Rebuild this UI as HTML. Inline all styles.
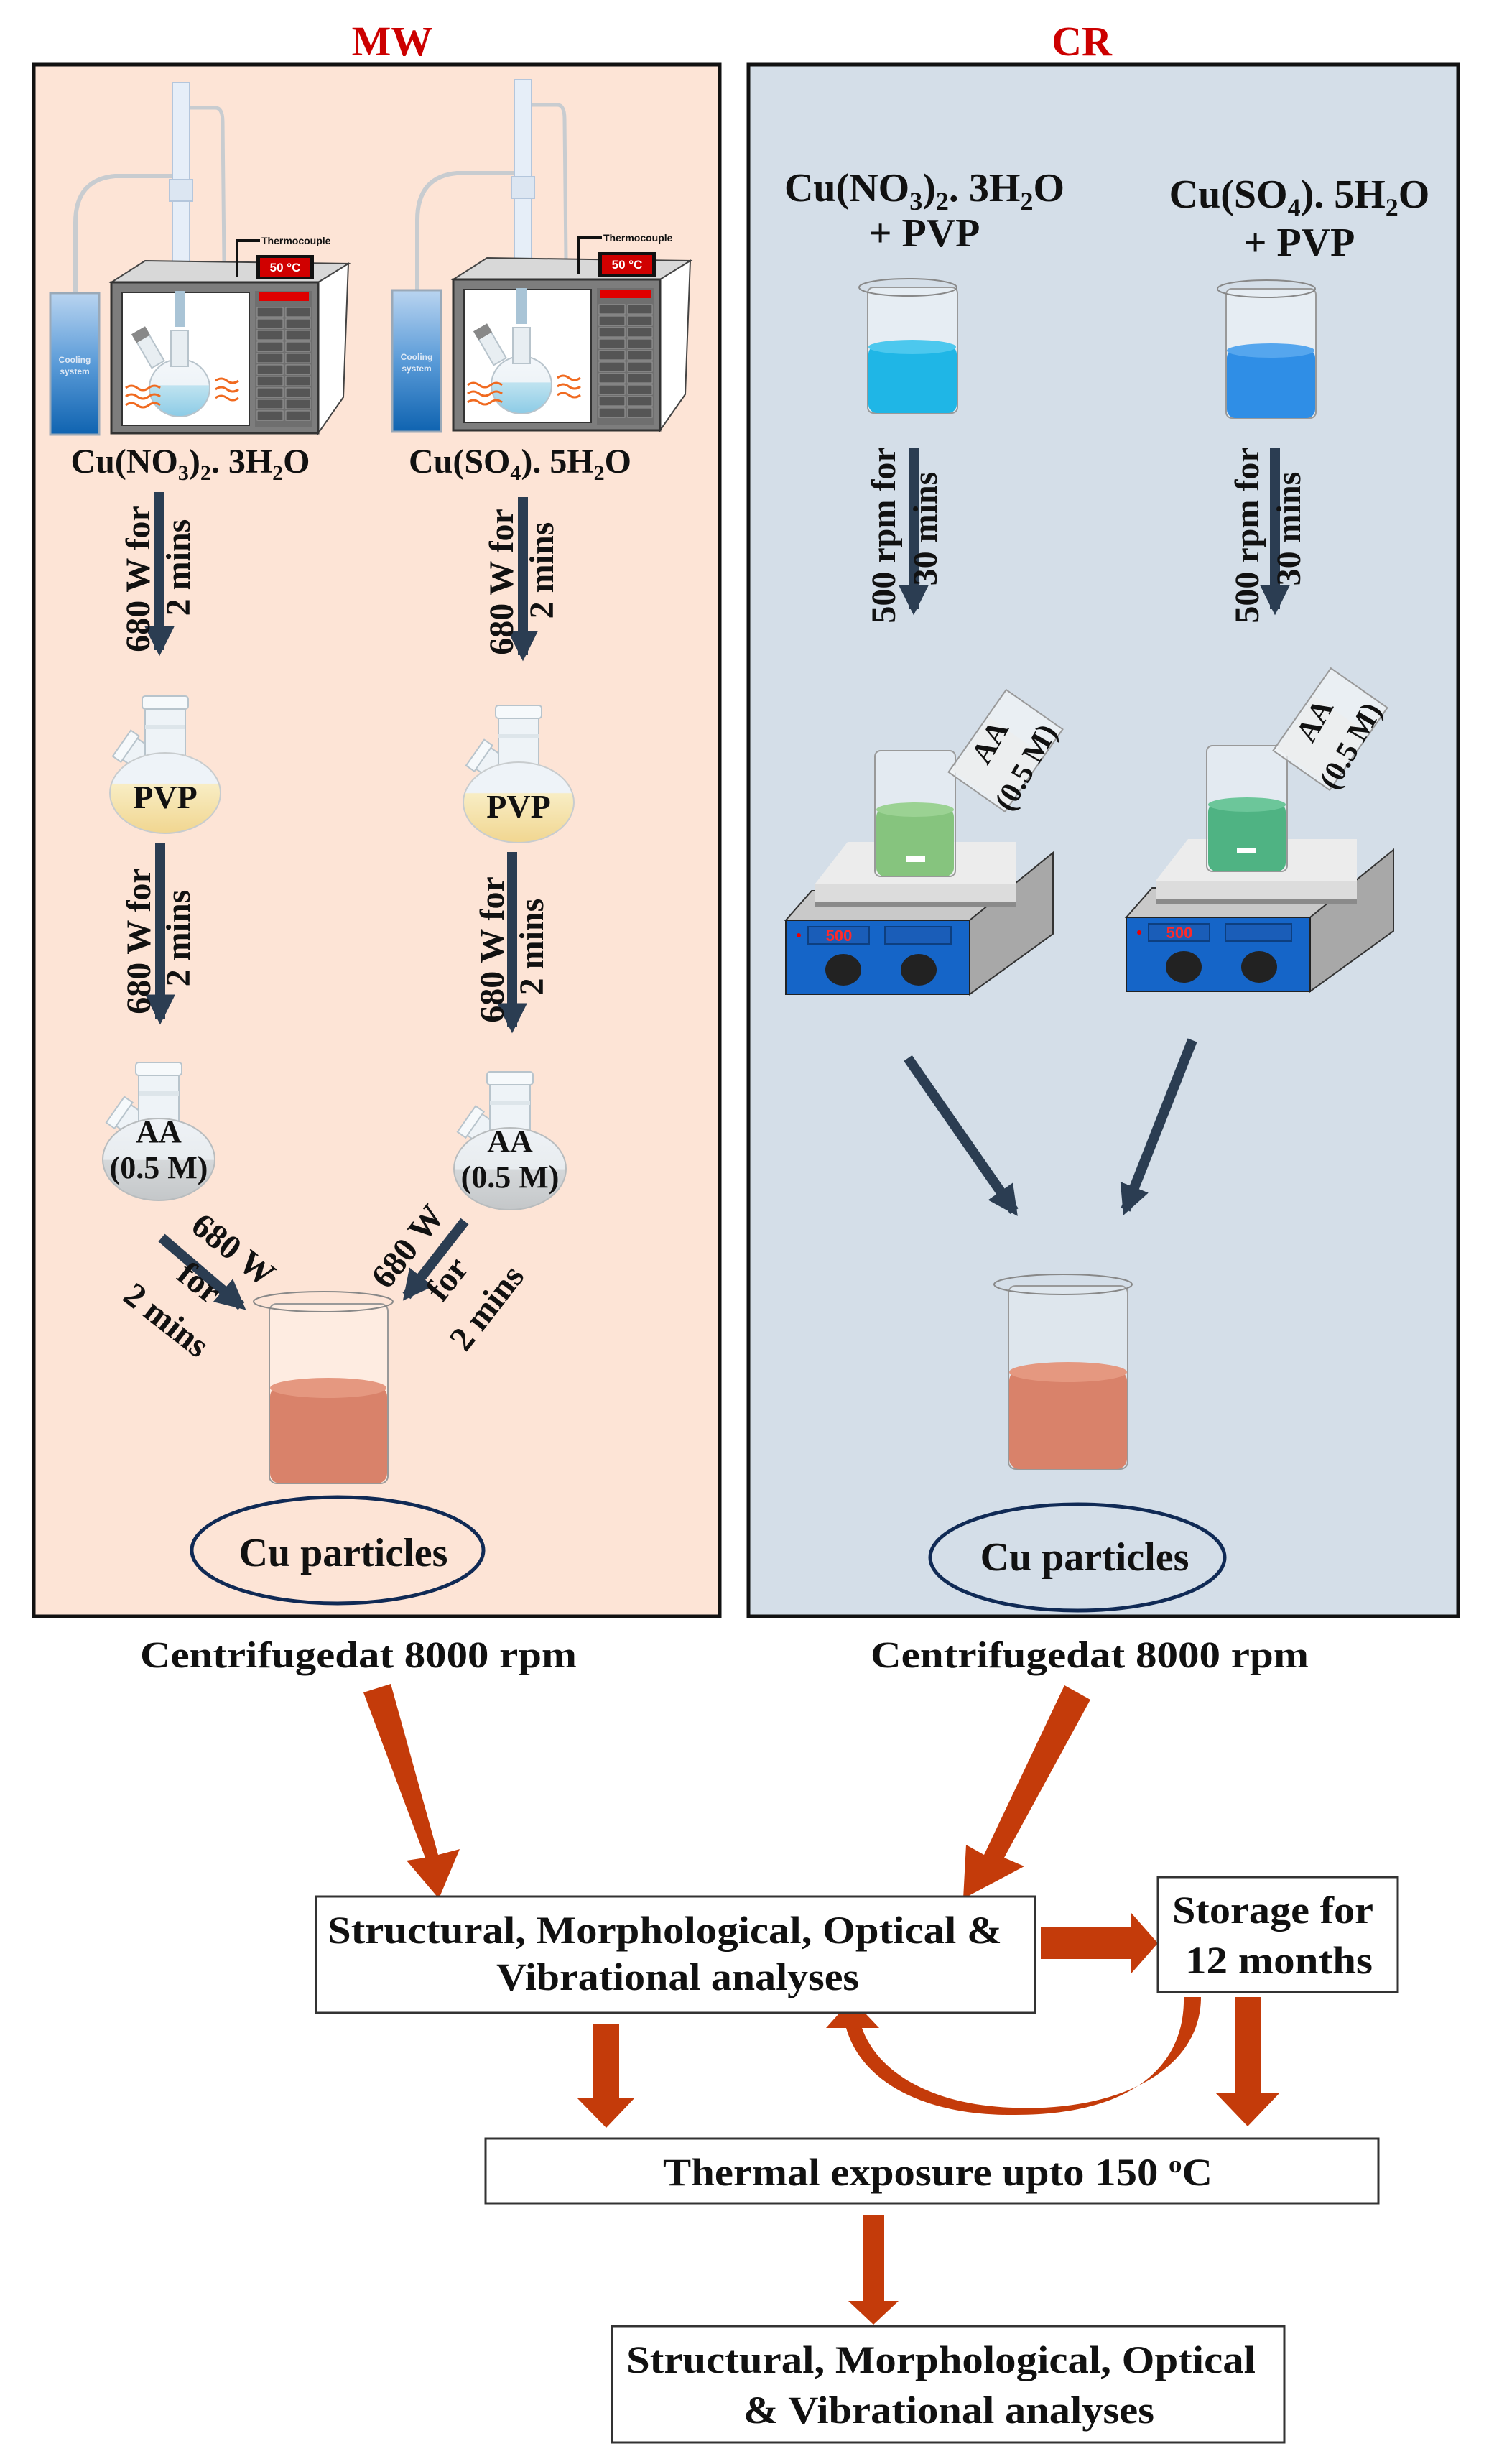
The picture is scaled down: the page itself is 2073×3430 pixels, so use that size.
<!DOCTYPE html>
<html><head><meta charset="utf-8"><style>
html,body{margin:0;padding:0;background:#fff;}
svg{display:block;}
text{font-family:"Liberation Serif",serif;font-weight:bold;fill:#111;}
</style></head><body>
<svg width="2073" height="3430" viewBox="0 0 2073 3430" xmlns="http://www.w3.org/2000/svg">
<defs>
<linearGradient id="cool" x1="0" y1="0" x2="0" y2="1"><stop offset="0" stop-color="#b9d4f0"/><stop offset="0.5" stop-color="#5a9bd8"/><stop offset="1" stop-color="#0f63b0"/></linearGradient>
<linearGradient id="pvp" x1="0" y1="0" x2="0" y2="1"><stop offset="0" stop-color="#eef3f8"/><stop offset="0.38" stop-color="#eef3f8"/><stop offset="0.39" stop-color="#f8edc4"/><stop offset="1" stop-color="#f1d690"/></linearGradient>
<linearGradient id="aa" x1="0" y1="0" x2="0" y2="1"><stop offset="0" stop-color="#eef2f6"/><stop offset="0.5" stop-color="#e8ecef"/><stop offset="0.51" stop-color="#d5d8da"/><stop offset="1" stop-color="#c4c7c9"/></linearGradient>
<linearGradient id="mwf" x1="0" y1="0" x2="0" y2="1"><stop offset="0" stop-color="#f4f7fa"/><stop offset="0.45" stop-color="#eef4f8"/><stop offset="0.46" stop-color="#bfe3f0"/><stop offset="1" stop-color="#8ccbe6"/></linearGradient>
<marker id="dh" viewBox="0 0 10 10" refX="8" refY="5" markerWidth="3" markerHeight="3" orient="auto"><path d="M0,0 L10,5 L0,10 z" fill="#2b3d52"/></marker>
<g id="flask">
 <g transform="rotate(-55 -40 -55)"><rect x="-58" y="-72" width="36" height="90" fill="#eef3f7" stroke="#b8c4cc" stroke-width="2"/><rect x="-62" y="-80" width="44" height="14" fill="#f6f9fb" stroke="#b8c4cc" stroke-width="2"/></g>
 <rect x="-28" y="-120" width="56" height="80" fill="#eef3f7" stroke="#b8c4cc" stroke-width="2"/>
 <rect x="-32" y="-135" width="64" height="18" rx="4" fill="#f6f9fb" stroke="#b8c4cc" stroke-width="2"/>
 <rect x="-28" y="-95" width="56" height="6" fill="#dde5ea"/>
</g>
<g id="mwbox">
 <path d="M105,408 L105,310 Q105,250 160,245 L240,245" fill="none" stroke="#c8ccd0" stroke-width="6"/>
 <path d="M265,150 L300,150 Q310,150 310,170 L312,365" fill="none" stroke="#c8ccd0" stroke-width="5"/>
 <rect x="240" y="115" width="24" height="260" fill="#e6eef8" stroke="#b4c6dc" stroke-width="2"/>
 <rect x="236" y="250" width="32" height="30" fill="#dce6f2" stroke="#b4c6dc" stroke-width="2"/>
 <rect x="70" y="408" width="68" height="197" fill="url(#cool)" stroke="#9aa9b8" stroke-width="3"/>
 <text x="104" y="505" font-size="12" style="fill:#dde8f5;font-family:'Liberation Sans',sans-serif" text-anchor="middle">Cooling</text>
 <text x="104" y="521" font-size="12" style="fill:#dde8f5;font-family:'Liberation Sans',sans-serif" text-anchor="middle">system</text>
 <polygon points="155,393 202,363 485,367 443,393" fill="#d8d8d8" stroke="#444" stroke-width="2"/>
 <polygon points="443,393 485,367 478,553 443,603" fill="#ffffff" stroke="#444" stroke-width="2"/>
 <rect x="155" y="393" width="288" height="210" fill="#7d7d7d" stroke="#333" stroke-width="3"/>
 <rect x="170" y="407" width="177" height="185" fill="#ffffff" stroke="#333" stroke-width="2"/>
 <rect x="355" y="405" width="80" height="190" fill="#6f6f6f"/>
 <rect x="360" y="407" width="70" height="12" fill="#e00000"/>
 <g fill="#555" stroke="#999" stroke-width="1">
  <rect x="358" y="428" width="36" height="13"/><rect x="398" y="428" width="34" height="13"/>
  <rect x="358" y="444" width="36" height="13"/><rect x="398" y="444" width="34" height="13"/>
  <rect x="358" y="460" width="36" height="13"/><rect x="398" y="460" width="34" height="13"/>
  <rect x="358" y="476" width="36" height="13"/><rect x="398" y="476" width="34" height="13"/>
  <rect x="358" y="492" width="36" height="13"/><rect x="398" y="492" width="34" height="13"/>
  <rect x="358" y="508" width="36" height="13"/><rect x="398" y="508" width="34" height="13"/>
  <rect x="358" y="524" width="36" height="13"/><rect x="398" y="524" width="34" height="13"/>
  <rect x="358" y="540" width="36" height="13"/><rect x="398" y="540" width="34" height="13"/>
  <rect x="358" y="556" width="36" height="13"/><rect x="398" y="556" width="34" height="13"/>
  <rect x="358" y="572" width="36" height="13"/><rect x="398" y="572" width="34" height="13"/>
 </g>
 <rect x="243" y="405" width="14" height="50" fill="#a9c4d6"/>
 <ellipse cx="250" cy="540" rx="42" ry="40" fill="url(#mwf)" stroke="#b8c4cc" stroke-width="2"/>
 <rect x="238" y="460" width="24" height="50" fill="#e8eef2" stroke="#b8c4cc" stroke-width="2"/>
 <g transform="rotate(-30 210 490)"><rect x="200" y="460" width="20" height="50" fill="#e8eef2" stroke="#b8c4cc" stroke-width="2"/><rect x="199" y="455" width="22" height="14" fill="#888"/></g>
 <g fill="none" stroke="#f06a20" stroke-width="3">
  <path d="M175,540 q8,-6 16,0 t16,0 t16,0"/><path d="M175,552 q8,-6 16,0 t16,0 t16,0"/><path d="M175,564 q8,-6 16,0 t16,0 t16,0"/>
  <path d="M300,530 q8,-6 16,0 t16,0"/><path d="M300,542 q8,-6 16,0 t16,0"/><path d="M300,554 q8,-6 16,0 t16,0"/>
 </g>
 <path d="M330,385 L330,335 L362,335" fill="none" stroke="#111" stroke-width="4"/>
 <text x="364" y="340" font-size="14" style="font-family:'Liberation Sans',sans-serif">Thermocouple</text>
 <rect x="357" y="355" width="80" height="34" fill="#111"/>
 <rect x="362" y="359" width="70" height="26" fill="#d00000"/>
 <text x="397" y="378" font-size="17" text-anchor="middle" style="fill:#fff;font-family:'Liberation Sans',sans-serif">50 °C</text>
</g>
<g id="stir">
 <polygon points="1094,1281 1130,1240 1466,1240 1350,1281" fill="#c9c9c9" stroke="#333" stroke-width="2"/>
 <polygon points="1350,1281 1466,1187 1466,1300 1350,1384" fill="#a8a8a8" stroke="#333" stroke-width="2"/>
 <rect x="1094" y="1281" width="256" height="103" fill="#1565c8" stroke="#222" stroke-width="2"/>
 <polygon points="1135,1230 1180,1172 1415,1172 1415,1230" fill="#ececec"/>
 <rect x="1135" y="1230" width="280" height="32" fill="#dcdcdc"/>
 <rect x="1135" y="1255" width="280" height="8" fill="#8a8a8a"/>
 <rect x="1125" y="1290" width="85" height="24" fill="#1a5db8" stroke="#0d3f80" stroke-width="2"/>
 <text x="1168" y="1310" font-size="22" text-anchor="middle" style="fill:#ff2a2a;font-family:'Liberation Sans',sans-serif">500</text>
 <circle cx="1112" cy="1302" r="3" fill="#e00"/>
 <rect x="1232" y="1290" width="92" height="24" fill="#1a5db8" stroke="#0d3f80" stroke-width="2"/>
 <ellipse cx="1174" cy="1350" rx="25" ry="22" fill="#222"/>
 <ellipse cx="1279" cy="1350" rx="25" ry="22" fill="#222"/>
</g>
</defs>

<!-- titles -->
<text x="546" y="77" font-size="58" text-anchor="middle" style="fill:#cc0000">MW</text>
<text x="1506" y="77" font-size="58" text-anchor="middle" style="fill:#cc0000">CR</text>

<!-- panels -->
<rect x="47" y="90" width="955" height="2160" fill="#fde4d6" stroke="#111" stroke-width="5"/>
<rect x="1042" y="90" width="988" height="2160" fill="#d4dee8" stroke="#111" stroke-width="5"/>

<!-- MW apparatus -->
<use href="#mwbox"/>
<use href="#mwbox" transform="translate(476,-4)"/>
<text x="265" y="658" font-size="48" text-anchor="middle">Cu(NO<tspan font-size="30" dy="10">3</tspan><tspan dy="-10">)</tspan><tspan font-size="30" dy="10">2</tspan><tspan dy="-10">. 3H</tspan><tspan font-size="30" dy="10">2</tspan><tspan dy="-10">O</tspan></text>
<text x="724" y="658" font-size="48" text-anchor="middle">Cu(SO<tspan font-size="30" dy="10">4</tspan><tspan dy="-10">). 5H</tspan><tspan font-size="30" dy="10">2</tspan><tspan dy="-10">O</tspan></text>

<!-- MW down arrows -->
<g stroke="#2b3d52" stroke-width="14" marker-end="url(#dh)">
 <line x1="222" y1="685" x2="222" y2="905"/>
 <line x1="728" y1="692" x2="728" y2="912"/>
 <line x1="223" y1="1174" x2="223" y2="1418"/>
 <line x1="713" y1="1186" x2="713" y2="1430"/>
 <line x1="225" y1="1723" x2="336" y2="1818"/>
 <line x1="647" y1="1700" x2="566" y2="1804"/>
</g>
<g font-size="48">
 <text transform="translate(208,806) rotate(-90)" text-anchor="middle">680 W for</text>
 <text transform="translate(264,790) rotate(-90)" text-anchor="middle">2 mins</text>
 <text transform="translate(714,810) rotate(-90)" text-anchor="middle">680 W for</text>
 <text transform="translate(770,794) rotate(-90)" text-anchor="middle">2 mins</text>
 <text transform="translate(209,1310) rotate(-90)" text-anchor="middle">680 W for</text>
 <text transform="translate(264,1306) rotate(-90)" text-anchor="middle">2 mins</text>
 <text transform="translate(701,1322) rotate(-90)" text-anchor="middle">680 W for</text>
 <text transform="translate(756,1318) rotate(-90)" text-anchor="middle">2 mins</text>
 <text transform="translate(315,1752) rotate(38)" text-anchor="middle">680 W</text>
 <text transform="translate(268,1798) rotate(38)" text-anchor="middle">for</text>
 <text transform="translate(222,1850) rotate(38)" text-anchor="middle">2 mins</text>
 <text transform="translate(580,1745) rotate(-52)" text-anchor="middle">680 W</text>
 <text transform="translate(635,1790) rotate(-52)" text-anchor="middle">for</text>
 <text transform="translate(690,1830) rotate(-52)" text-anchor="middle">2 mins</text>
</g>

<!-- MW flasks -->
<use href="#flask" transform="translate(230,1104)"/>
<ellipse cx="230" cy="1104" rx="77" ry="56" fill="url(#pvp)" stroke="#c8ccce" stroke-width="2"/>
<text x="230" y="1125" font-size="46" text-anchor="middle">PVP</text>
<use href="#flask" transform="translate(722,1117)"/>
<ellipse cx="722" cy="1117" rx="77" ry="56" fill="url(#pvp)" stroke="#c8ccce" stroke-width="2"/>
<text x="722" y="1138" font-size="46" text-anchor="middle">PVP</text>
<use href="#flask" transform="translate(221,1614)"/>
<ellipse cx="221" cy="1614" rx="78" ry="57" fill="url(#aa)" stroke="#b8bcbe" stroke-width="2"/>
<text x="221" y="1590" font-size="44" text-anchor="middle">AA</text>
<text x="221" y="1640" font-size="44" text-anchor="middle">(0.5 M)</text>
<use href="#flask" transform="translate(710,1627)"/>
<ellipse cx="710" cy="1627" rx="78" ry="57" fill="url(#aa)" stroke="#b8bcbe" stroke-width="2"/>
<text x="710" y="1603" font-size="44" text-anchor="middle">AA</text>
<text x="710" y="1653" font-size="44" text-anchor="middle">(0.5 M)</text>

<!-- MW beaker -->
<rect x="375" y="1815" width="165" height="250" rx="10" fill="#fff3ec" fill-opacity="0.5" stroke="#999" stroke-width="2"/>
<ellipse cx="450" cy="1812" rx="97" ry="14" fill="none" stroke="#888" stroke-width="2"/>
<rect x="376" y="1930" width="163" height="135" rx="14" fill="#d9826a"/>
<ellipse cx="457" cy="1932" rx="81" ry="14" fill="#e59880"/>
<ellipse cx="470" cy="2158" rx="203" ry="74" fill="none" stroke="#102a55" stroke-width="5"/>
<text x="478" y="2180" font-size="56" text-anchor="middle">Cu particles</text>

<!-- CR -->
<text x="1287" y="280" font-size="56" text-anchor="middle">Cu(NO<tspan font-size="36" dy="12">3</tspan><tspan dy="-12">)</tspan><tspan font-size="36" dy="12">2</tspan><tspan dy="-12">. 3H</tspan><tspan font-size="36" dy="12">2</tspan><tspan dy="-12">O</tspan></text>
<text x="1287" y="343" font-size="56" text-anchor="middle">+ PVP</text>
<text x="1809" y="289" font-size="56" text-anchor="middle">Cu(SO<tspan font-size="36" dy="12">4</tspan><tspan dy="-12">). 5H</tspan><tspan font-size="36" dy="12">2</tspan><tspan dy="-12">O</tspan></text>
<text x="1809" y="356" font-size="56" text-anchor="middle">+ PVP</text>

<rect x="1208" y="400" width="125" height="175" rx="8" fill="#f2f6fa" fill-opacity="0.6" stroke="#999" stroke-width="2"/>
<ellipse cx="1264" cy="400" rx="68" ry="12" fill="none" stroke="#888" stroke-width="2"/>
<rect x="1209" y="481" width="123" height="94" rx="12" fill="#1fb6e6"/>
<ellipse cx="1270" cy="483" rx="61" ry="10" fill="#4cc8ee"/>
<rect x="1707" y="402" width="125" height="180" rx="8" fill="#f2f6fa" fill-opacity="0.6" stroke="#999" stroke-width="2"/>
<ellipse cx="1763" cy="402" rx="68" ry="12" fill="none" stroke="#888" stroke-width="2"/>
<rect x="1708" y="486" width="123" height="96" rx="12" fill="#2f8ee6"/>
<ellipse cx="1769" cy="488" rx="61" ry="10" fill="#55a6ee"/>

<g stroke="#2b3d52" stroke-width="14" marker-end="url(#dh)">
 <line x1="1272" y1="624" x2="1272" y2="848"/>
 <line x1="1775" y1="624" x2="1775" y2="848"/>
 <line x1="1264" y1="1473" x2="1412" y2="1686"/>
 <line x1="1660" y1="1448" x2="1567" y2="1684"/>
</g>
<g font-size="48">
 <text transform="translate(1246,745) rotate(-90)" text-anchor="middle">500 rpm for</text>
 <text transform="translate(1304,736) rotate(-90)" text-anchor="middle">30 mins</text>
 <text transform="translate(1752,745) rotate(-90)" text-anchor="middle">500 rpm for</text>
 <text transform="translate(1810,736) rotate(-90)" text-anchor="middle">30 mins</text>
</g>

<!-- stirrers -->
<use href="#stir"/>
<use href="#stir" transform="translate(474,-4)"/>
<rect x="1218" y="1045" width="112" height="175" rx="8" fill="#f2f6fa" fill-opacity="0.5" stroke="#999" stroke-width="2"/>
<rect x="1220" y="1125" width="108" height="95" rx="12" fill="#86c47e"/>
<ellipse cx="1274" cy="1127" rx="54" ry="10" fill="#9bd293"/>
<rect x="1262" y="1192" width="26" height="8" fill="#fff"/>
<rect x="1680" y="1038" width="112" height="175" rx="8" fill="#f2f6fa" fill-opacity="0.5" stroke="#999" stroke-width="2"/>
<rect x="1682" y="1118" width="108" height="95" rx="12" fill="#4fb383"/>
<ellipse cx="1736" cy="1120" rx="54" ry="10" fill="#6cc69a"/>
<rect x="1722" y="1180" width="26" height="8" fill="#fff"/>
<!-- tilted AA beakers -->
<g transform="rotate(35 1400 1045)"><rect x="1352" y="975" width="96" height="140" fill="#f4f6f8" fill-opacity="0.7" stroke="#999" stroke-width="2"/><rect x="1355" y="1020" width="90" height="90" fill="#eceeef"/></g>
<text transform="translate(1390,1040) rotate(-60)" font-size="42" text-anchor="middle">AA</text>
<text transform="translate(1440,1075) rotate(-60)" font-size="42" text-anchor="middle">(0.5 M)</text>
<g transform="rotate(35 1852 1015)"><rect x="1804" y="945" width="96" height="140" fill="#f4f6f8" fill-opacity="0.7" stroke="#999" stroke-width="2"/><rect x="1807" y="990" width="90" height="90" fill="#eceeef"/></g>
<text transform="translate(1842,1010) rotate(-60)" font-size="42" text-anchor="middle">AA</text>
<text transform="translate(1892,1045) rotate(-60)" font-size="42" text-anchor="middle">(0.5 M)</text>

<!-- CR beaker -->
<rect x="1404" y="1790" width="166" height="255" rx="10" fill="#eef2f6" fill-opacity="0.4" stroke="#999" stroke-width="2"/>
<ellipse cx="1480" cy="1788" rx="96" ry="14" fill="none" stroke="#888" stroke-width="2"/>
<rect x="1405" y="1908" width="164" height="137" rx="14" fill="#d9826a"/>
<ellipse cx="1487" cy="1910" rx="82" ry="14" fill="#e59880"/>
<ellipse cx="1500" cy="2168" rx="205" ry="74" fill="none" stroke="#102a55" stroke-width="5"/>
<text x="1510" y="2186" font-size="56" text-anchor="middle">Cu particles</text>

<!-- bottom -->
<text x="499" y="2321" font-size="52" text-anchor="middle" textLength="608" lengthAdjust="spacingAndGlyphs">Centrifugedat 8000 rpm</text>
<text x="1517" y="2321" font-size="52" text-anchor="middle" textLength="610" lengthAdjust="spacingAndGlyphs">Centrifugedat 8000 rpm</text>

<g fill="#c43b0a">
 <!-- left diagonal -->
 <polygon points="506,2356 544,2344 610,2582 640,2574 611,2643 566,2590 592,2586"/>
 <!-- right diagonal -->
 <polygon points="1482,2346 1518,2366 1398,2586 1426,2598 1341,2643 1345,2568 1370,2582"/>
 <!-- right arrow -->
 <polygon points="1449,2683 1575,2683 1575,2663 1612,2705 1575,2747 1575,2727 1449,2727"/>
 <!-- down left -->
 <polygon points="826,2817 862,2817 862,2920 884,2920 844,2962 803,2920 826,2920"/>
 <!-- down right -->
 <polygon points="1720,2780 1756,2780 1756,2913 1782,2913 1737,2960 1692,2913 1720,2913"/>
 <!-- down to final -->
 <polygon points="1201,3083 1231,3083 1231,3203 1251,3203 1216,3236 1181,3203 1201,3203"/>
 <!-- curved -->
 <path d="M1648,2780 L1672,2780 C1672,2880 1560,2940 1410,2934 C1290,2930 1220,2880 1200,2823 L1224,2823 L1186,2783 L1150,2823 L1178,2823 C1200,2900 1290,2945 1410,2944 C1570,2945 1650,2880 1648,2780 Z" fill="#c43b0a"/>
</g>

<rect x="440" y="2640" width="1001" height="162" fill="#fff" stroke="#333" stroke-width="3"/>
<text x="456" y="2705" font-size="54" textLength="939" lengthAdjust="spacingAndGlyphs">Structural, Morphological, Optical &amp;</text>
<text x="691" y="2770" font-size="54" textLength="505" lengthAdjust="spacingAndGlyphs">Vibrational analyses</text>

<rect x="1612" y="2613" width="334" height="160" fill="#fff" stroke="#333" stroke-width="3"/>
<text x="1632" y="2677" font-size="54" textLength="280" lengthAdjust="spacingAndGlyphs">Storage for</text>
<text x="1650" y="2747" font-size="54" textLength="261" lengthAdjust="spacingAndGlyphs">12 months</text>

<rect x="676" y="2977" width="1243" height="90" fill="#fff" stroke="#333" stroke-width="3"/>
<text x="923" y="3042" font-size="54" textLength="765" lengthAdjust="spacingAndGlyphs">Thermal exposure upto 150 <tspan font-size="34" dy="-18">o</tspan><tspan dy="18">C</tspan></text>

<rect x="852" y="3238" width="936" height="162" fill="#fff" stroke="#333" stroke-width="3"/>
<text x="872" y="3303" font-size="54" textLength="876" lengthAdjust="spacingAndGlyphs">Structural, Morphological, Optical</text>
<text x="1035" y="3373" font-size="54" textLength="572" lengthAdjust="spacingAndGlyphs">&amp; Vibrational analyses</text>
</svg>
</body></html>
